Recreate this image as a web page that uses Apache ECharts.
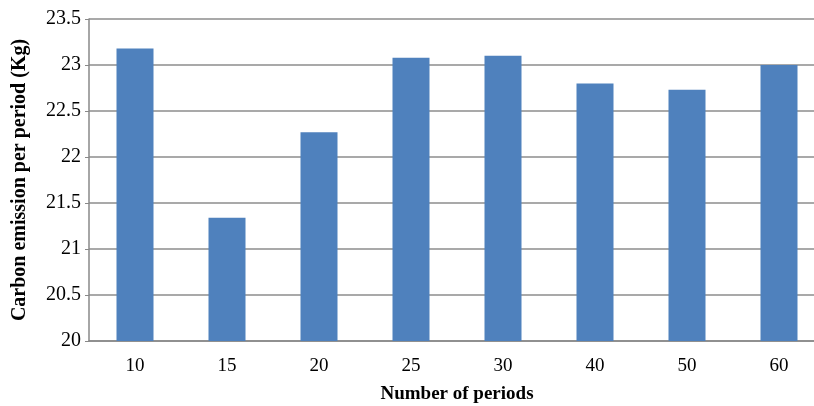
<!DOCTYPE html>
<html>
<head>
<meta charset="utf-8">
<script src="https://cdn.jsdelivr.net/npm/echarts@6/dist/echarts.min.js"></script>
<style>
  html, body { margin: 0; padding: 0; background: #fff; }
  #chart { width: 814px; height: 406px; }
</style>
</head>
<body>
<div id="chart"></div>
<script>
var periods = ['10', '15', '20', '25', '30', '40', '50', '60'];
var emission = [23.18, 21.34, 22.27, 23.08, 23.10, 22.80, 22.73, 23.00];
var yTicks = [20, 20.5, 21, 21.5, 22, 22.5, 23, 23.5];

var myChart = echarts.init(document.getElementById('chart'));
var font = '"Liberation Serif", "Times New Roman", serif';

myChart.setOption({
  backgroundColor: '#fff',
  animation: false,
  grid: {
    left: 89,
    top: 19,
    width: 736,
    height: 322,
    containLabel: false,
    outerBoundsMode: 'none'
  },
  xAxis: {
    type: 'category',
    data: periods,
    name: 'Number of periods',
    nameLocation: 'middle',
    nameGap: 44,
    nameTextStyle: { fontFamily: font, fontSize: 19, fontWeight: 'bold', color: '#000' },
    axisLine: { lineStyle: { color: '#888', width: 1.5 } },
    axisTick: { show: false },
    axisLabel: { fontFamily: font, fontSize: 19, color: '#000', margin: 16 }
  },
  yAxis: {
    type: 'value',
    min: yTicks[0],
    max: yTicks[yTicks.length - 1],
    interval: 0.5,
    name: 'Carbon emission per period (Kg)',
    nameLocation: 'middle',
    nameGap: 59,
    nameTextStyle: { fontFamily: font, fontSize: 20, fontWeight: 'bold', color: '#000' },
    axisLine: { show: true, lineStyle: { color: '#888', width: 1.5 } },
    axisTick: { show: true, length: 4, lineStyle: { color: '#888' } },
    axisLabel: { fontFamily: font, fontSize: 20, color: '#000', margin: 8 },
    splitLine: { lineStyle: { color: '#8c8c8c', width: 1.5 } }
  },
  series: [{
    type: 'bar',
    data: emission,
    barWidth: 37,
    itemStyle: { color: '#4f81bd' }
  }]
});
</script>
</body>
</html>
